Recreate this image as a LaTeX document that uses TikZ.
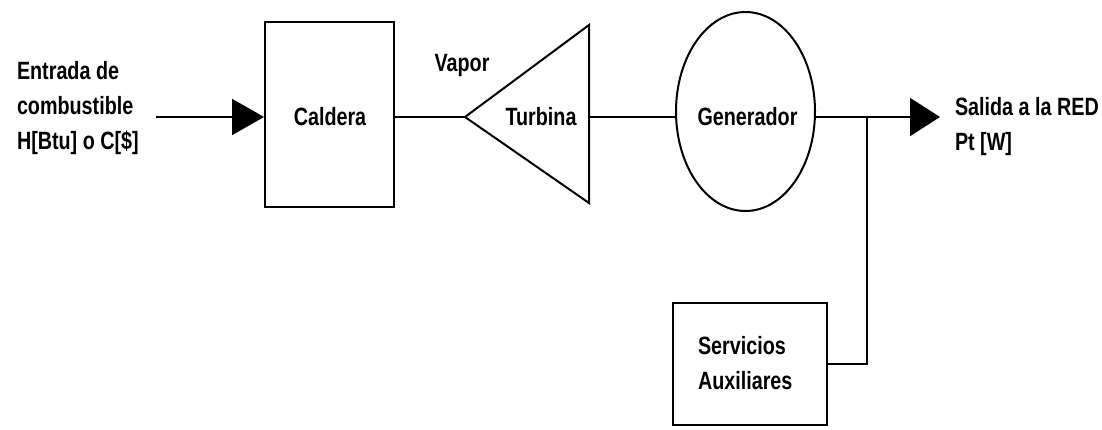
\documentclass[tikz,border=0pt]{standalone}
\usepackage{fontspec}
\setmainfont{Liberation Sans}[FakeStretch=0.79]
\usetikzlibrary{arrows.meta,shapes.geometric}
\begin{document}
\begin{tikzpicture}[x=0.75pt,y=-0.75pt,line width=1.5pt,
  lbl/.style={font=\fontsize{18.75pt}{26.25pt}\selectfont\bfseries,inner sep=0pt,align=left},
  blk/.style={draw,inner sep=0pt},
]
\useasboundingbox (0,0) rectangle (1102,429);

% main signal axis
\coordinate (axis) at (0,117);

% fuel input
\node[lbl,anchor=west] (inlbl) at (16,108) {Entrada de\\combustible\\H[Btu] o C[\$]};
\coordinate (instart) at (156,117);

% boiler
\node[blk,minimum width={129*0.75pt},minimum height={185*0.75pt}] (cald) at (329.5,114.5) {};
\node[lbl] (caldlbl) at (330,117) {Caldera};

% turbine (triangle opening to the right)
\coordinate (apex) at (465,117);
\coordinate (ttop) at (589,25);
\coordinate (tbot) at (589,203);
\draw[line join=miter] (ttop) -- (apex) -- (tbot) -- cycle;
\coordinate (turbout) at (589,117);
\node[lbl] (vapor) at (462,65) {Vapor};
\node[lbl] (turb) at (541,117) {Turbina};

% generator
\node[blk,ellipse,minimum width={139*0.75pt},minimum height={199*0.75pt}] (gen) at (745.5,111.5) {};
\node[lbl] (genlbl) at (747.5,117) {Generador};

% auxiliary services
\node[blk,minimum width={154*0.75pt},minimum height={122*0.75pt}] (aux) at (750,364) {};
\node[lbl,anchor=west] (auxlbl) at (697,363) {Servicios\\Auxiliares};

% grid output
\coordinate (outend) at (940,117);
\coordinate (junc) at (867,117);
\node[lbl,anchor=west] (outlbl) at (954,127) {Salida a la RED\\Pt [W]};

% connectors
\draw[-{Triangle[length=24pt,width=27pt]}] (instart) -- (cald.west |- axis);
\draw (cald.east |- axis) -- (apex);
\draw (turbout) -- (gen.west |- axis);
\draw[-{Triangle[length=22.5pt,width=28.5pt]}] (gen.east |- axis) -- (outend);
\draw (junc) |- (aux.east);
\end{tikzpicture}
\end{document}
